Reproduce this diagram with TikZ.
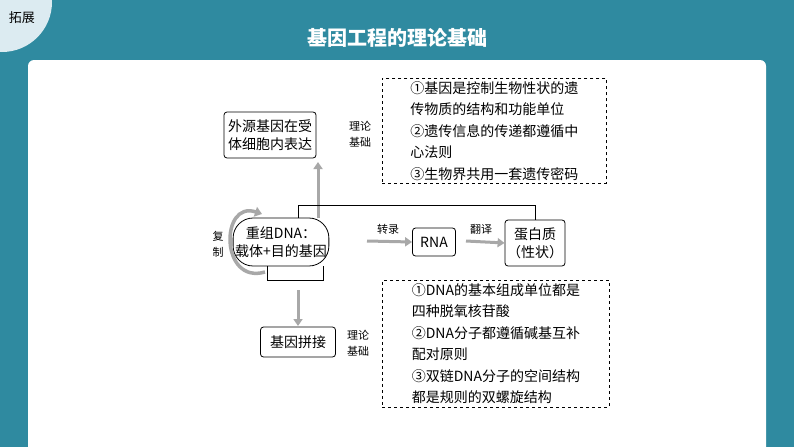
\documentclass[tikz,border=0pt]{standalone}
\usepackage{fontspec}
\setmainfont{Noto Sans CJK SC}
\usetikzlibrary{arrows.meta}
\definecolor{teal1}{HTML}{2F8AA0}
\definecolor{tab}{HTML}{DCEBF1}
\definecolor{arr}{HTML}{A8A8A8}
\tikzset{x=1pt,y=-1pt,
 box/.style={draw,thick,rounded corners=3pt,align=center,inner sep=2pt,font=\fontsize{14}{18}\selectfont},
 dbox/.style={draw,thick,dashed,align=left,anchor=north west,inner sep=3pt,font=\fontsize{14}{21.5}\selectfont,minimum width=#1},
 lab/.style={align=center,font=\fontsize{11}{16}\selectfont},
 garr/.style={draw=arr,line width=3pt,-{Triangle[length=7pt,width=9pt]}}}
\begin{document}
\begin{tikzpicture}
\useasboundingbox (0,0) rectangle (794,447);
\fill[teal1] (0,0) rectangle (794,447);
\fill[white,rounded corners=6pt] (28,60) rectangle (766,460);
\begin{scope}
\clip (0,0) rectangle (60,60);
\fill[tab] (2,2) circle[radius=50];
\end{scope}
\node[font=\itshape\fontsize{13}{13}\selectfont] (tabt) at (22,18) {拓展};
\node[text=white,font=\bfseries\fontsize{20}{20}\selectfont] (title) at (397,38) {基因工程的理论基础};

\node[box,minimum width=92,minimum height=46] (top) at (270,135) {外源基因在受\\体细胞内表达};
\node[lab] (l1) at (360,134) {理论\\基础};
\node[dbox=224] (d1) at (382,78) {①基因是控制生物性状的遗\\传物质的结构和功能单位\\②遗传信息的传递都遵循中\\心法则\\③生物界共用一套遗传密码};

\node[box,rounded corners=20pt,minimum width=84,minimum height=48] (dna) at (281,242) {重组DNA：\\载体+目的基因};
\node[lab] (fz) at (218,244) {复\\制};
\node[box,minimum width=43,minimum height=28] (rna) at (434,242) {RNA};
\node[box,minimum width=58,minimum height=46] (pro) at (535,243) {蛋白质\\（性状）};
\node[lab,font=\fontsize{11}{11}\selectfont] (zl) at (388,229) {转录};
\node[lab,font=\fontsize{11}{11}\selectfont] (fy) at (481,229) {翻译};

\node[box,minimum width=75,minimum height=30] (pj) at (298,342) {基因拼接};
\node[lab] (l2) at (358,343) {理论\\基础};
\node[dbox=227] (d2) at (382,280) {①DNA的基本组成单位都是\\四种脱氧核苷酸\\②DNA分子都遵循碱基互补\\配对原则\\③双链DNA分子的空间结构\\都是规则的双螺旋结构};

\coordinate (ua) at (318,218);
\coordinate (ub) at (318,162);
\coordinate (da) at (298,290);
\coordinate (db) at (298,326);
\draw[garr] (367,241) -- (rna.west);
\draw[garr] (466,241) -- (pro.west);
\draw[garr] (ua) -- (ub);
\draw[garr] (da) -- (db);
\draw[thick] (298,218) -- (298,205) -- (535,205) -- (pro.north);
\draw[thick] (267,266) -- (267,280) -- (323,280) -- (323,266);
\draw[draw=arr,line width=3.5pt,-{Triangle[length=7pt,width=10pt]}] (265,272) .. controls (220,285) and (220,200) .. (262,214);
\end{tikzpicture}
\end{document}
